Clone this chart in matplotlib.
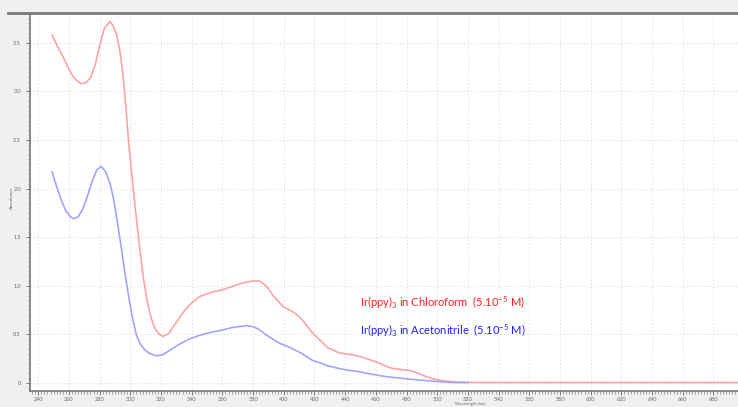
import matplotlib.pyplot as plt
from matplotlib.ticker import MultipleLocator

plt.rcParams["font.family"] = ["Lato", "DejaVu Sans"]
plt.rcParams["mathtext.fontset"] = "custom"
plt.rcParams["mathtext.rm"] = "Lato"
plt.rcParams["mathtext.it"] = "Lato"

# ---------------------------
# DATA
# ---------------------------
wl_chcl3 = [249, 252, 256, 259, 262, 265, 268, 271, 274, 277, 280, 283, 286.7,
            289, 291, 293, 295, 297, 299, 302, 304, 306, 308.5, 311, 313.5, 316,
            319, 321.5, 325, 328, 332, 335, 339, 345, 352, 360, 366, 371, 376,
            380, 384, 387, 390, 393, 397, 400, 404, 408, 412, 415, 418, 421,
            425, 428, 432, 436, 441, 445, 450, 454, 458, 463, 467, 471, 476,
            482, 486, 489, 493, 497, 501, 506, 512, 519, 540, 600, 650, 696]
abs_chcl3 = [3.58, 3.48, 3.36, 3.26, 3.17, 3.11, 3.08, 3.09, 3.14, 3.27, 3.47, 3.65, 3.72,
             3.67, 3.58, 3.43, 3.20, 2.85, 2.45, 1.98, 1.68, 1.40, 1.08, 0.84, 0.67, 0.56,
             0.50, 0.48, 0.51, 0.58, 0.67, 0.74, 0.81, 0.89, 0.93, 0.96, 0.99, 1.02, 1.04,
             1.05, 1.05, 1.02, 0.97, 0.90, 0.83, 0.78, 0.75, 0.71, 0.65, 0.59, 0.53, 0.48,
             0.42, 0.37, 0.34, 0.31, 0.30, 0.29, 0.27, 0.25, 0.23, 0.20, 0.17, 0.15, 0.14,
             0.13, 0.11, 0.09, 0.065, 0.045, 0.03, 0.02, 0.01, 0.006, 0.005, 0.005, 0.005, 0.005]

wl_mecn = [249, 252, 255, 258, 261, 263, 266, 269, 272, 275, 278, 281, 284,
           287, 289, 291.5, 294, 296.5, 299, 301.5, 304, 306.5, 309.5, 313, 317,
           321, 326, 332, 338, 345, 352, 360, 366, 371, 376, 380, 384, 389,
           393, 397, 402, 406, 411, 415, 419, 423.5, 428, 436, 441, 448, 454,
           461, 467, 475, 482, 490, 497, 503, 508, 514, 520]
abs_mecn = [2.17, 2.02, 1.88, 1.77, 1.71, 1.69, 1.71, 1.79, 1.92, 2.07, 2.19, 2.23, 2.17,
            2.04, 1.90, 1.66, 1.40, 1.13, 0.88, 0.66, 0.49, 0.40, 0.34, 0.30, 0.28,
            0.29, 0.34, 0.40, 0.45, 0.49, 0.52, 0.545, 0.57, 0.58, 0.59, 0.58, 0.55, 0.49,
            0.45, 0.41, 0.38, 0.35, 0.31, 0.27, 0.23, 0.21, 0.18, 0.15, 0.134, 0.12, 0.10,
            0.08, 0.065, 0.052, 0.04, 0.028, 0.02, 0.012, 0.007, 0.005, 0.005]

label_chcl3 = r"Ir(ppy)$_3$ in Chloroform  (5.10$^{-5}$ M)"
label_mecn = r"Ir(ppy)$_3$ in Acetonitrile  (5.10$^{-5}$ M)"

# ---------------------------
# FIGURE
# ---------------------------
fig = plt.figure(figsize=(7.38, 4.07), dpi=100)
fig.patch.set_facecolor("#F0F0F0")
ax = fig.add_axes([30 / 738, 16.3 / 407, 708 / 738, 377.7 / 407])
ax.set_facecolor("white")

ax.plot(wl_chcl3, abs_chcl3, color="#FFA0A0", lw=1.15, zorder=3)
ax.plot(wl_mecn, abs_mecn, color="#A0A0FF", lw=1.15, zorder=3)

ax.set_xlim(234.6, 696)
ax.set_ylim(-0.079, 3.807)

ax.xaxis.set_major_locator(MultipleLocator(20))
ax.xaxis.set_minor_locator(MultipleLocator(2))
ax.yaxis.set_major_locator(MultipleLocator(0.5))
ax.yaxis.set_minor_locator(MultipleLocator(0.05))
ax.yaxis.set_major_formatter(plt.FuncFormatter(lambda v, p: "0" if v == 0 else f"{v:.1f}"))

ax.grid(True, which="major", color="#E2E2E2", linestyle=(0, (1.2, 1.8)), lw=0.8)
ax.tick_params(which="both", labelsize=4, colors="#666666", direction="out")
ax.tick_params(which="major", length=3, width=0.6)
ax.tick_params(which="minor", length=1.8, width=0.4)
ax.tick_params(axis="x", pad=1.5)

for s in ["top", "right"]:
    ax.spines[s].set_visible(False)
ax.spines["left"].set_color("#777777")
ax.spines["left"].set_linewidth(1.2)
ax.spines["bottom"].set_color("#777777")
ax.spines["bottom"].set_linewidth(1.2)

# frame line along the top
fig.add_artist(plt.Line2D([8 / 738, 1], [1 - 12.5 / 407] * 2,
                          color="#7A7A7A", lw=2, transform=fig.transFigure))

fig.text(470 / 738, 1 - 404.3 / 407, "Wavelength (nm)", fontsize=3,
         color="#666666", ha="center", va="center")
fig.text(11.5 / 738, 1 - 198 / 407, "Absorbance", fontsize=3.2,
         color="#666666", ha="center", va="center", rotation=90)

ax.text(449.6, 0.83, label_chcl3, color="#FF1E1E", fontsize=8, va="center")
ax.text(449.6, 0.535, label_mecn, color="#1E1EFF", fontsize=8, va="center")

plt.savefig("out.png", dpi=100)
plt.close()
